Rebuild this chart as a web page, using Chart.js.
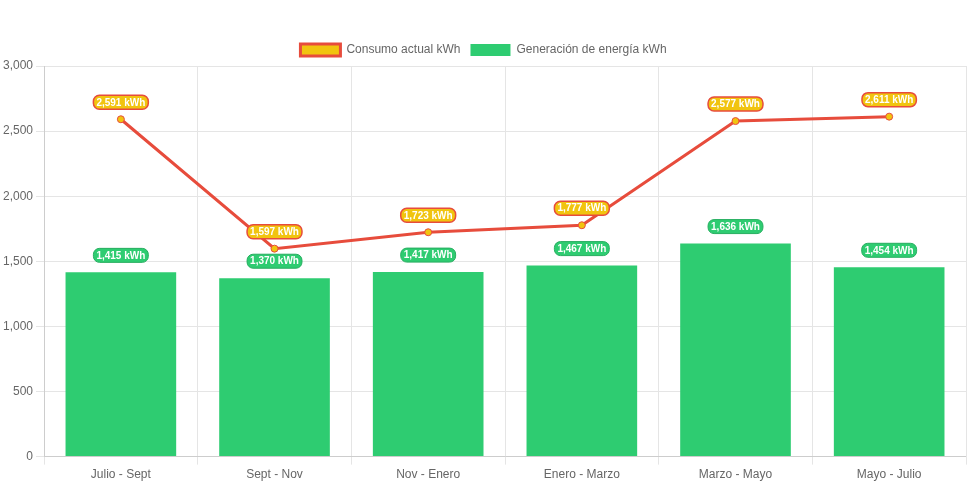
<!DOCTYPE html>
<html>
<head>
<meta charset="utf-8">
<script src="https://cdn.jsdelivr.net/npm/chart.js@4"></script>
<style>
    html, body { margin: 0; padding: 0; background: #fff; }
    .chart { width: 971px; height: 485px; }
</style>
</head>
<body>
<div class="chart"><canvas id="energyChart"></canvas></div>
<script>
const periodos = ["Julio - Sept", "Sept - Nov", "Nov - Enero", "Enero - Marzo", "Marzo - Mayo", "Mayo - Julio"];
const consumo = [2591, 1597, 1723, 1777, 2577, 2611];
const generacion = [1415, 1370, 1417, 1467, 1636, 1454];

// etiquetas encima de cada punto / barra
const valueLabels = {
    id: "valueLabels",
    afterDatasetsDraw(chart) {
        const { ctx } = chart;
        ctx.save();
        ctx.font = "bold 10px 'Liberation Sans', Arial, sans-serif";
        ctx.textAlign = "center";
        ctx.textBaseline = "middle";
        // barras primero, luego la línea encima
        [1, 0].forEach((di) => {
            const ds = chart.data.datasets[di];
            const meta = chart.getDatasetMeta(di);
            meta.data.forEach((el, i) => {
                const text = ds.data[i].toLocaleString("en-US") + " kWh";
                const w = ctx.measureText(text).width + 6;
                const h = 14;
                const x = el.x;
                const y = el.y - 17;
                ctx.beginPath();
                ctx.roundRect(x - w / 2, y - h / 2, w, h, 6);
                ctx.fillStyle = ds.labelBg;
                ctx.fill();
                ctx.lineWidth = ds.labelBorderWidth;
                ctx.strokeStyle = ds.labelBorder;
                ctx.stroke();
                ctx.fillStyle = "#fff";
                ctx.fillText(text, x, y + 0.5);
            });
        });
        ctx.restore();
    },
};

new Chart(document.getElementById("energyChart"), {
    type: "bar",
    data: {
        labels: periodos,
        datasets: [
            {
                type: "line",
                label: "Consumo actual kWh",
                data: consumo,
                borderColor: "#e74c3c",
                backgroundColor: "#f1c40f",
                borderWidth: 3,
                pointRadius: 3.5,
                pointBackgroundColor: "#f1c40f",
                pointBorderColor: "#e74c3c",
                pointBorderWidth: 1,
                tension: 0,
                labelBg: "#f1c40f",
                labelBorder: "#e74c3c",
                labelBorderWidth: 1.5,
            },
            {
                label: "Generación de energía kWh",
                data: generacion,
                backgroundColor: "#2ecc71",
                borderColor: "#2ecc71",
                borderWidth: 0,
                labelBg: "#2ecc71",
                labelBorder: "#27ae60",
                labelBorderWidth: 1,
            },
        ],
    },
    options: {
        responsive: true,
        maintainAspectRatio: false,
        animation: false,
        layout: {
            padding: { top: 34, right: 4 },
        },
        plugins: {
            legend: {
                display: true,
                position: "top",
                labels: {
                    color: "#666",
                    boxWidth: 40,
                    font: { size: 12 },
                },
            },
            tooltip: { enabled: false },
        },
        scales: {
            x: {
                grid: { color: "#e5e5e5" },
                ticks: { color: "#666" },
            },
            y: {
                min: 0,
                max: 3000,
                grid: { color: "#e5e5e5" },
                ticks: {
                    color: "#666",
                    stepSize: 500,
                },
            },
        },
    },
    plugins: [valueLabels],
});
</script>
</body>
</html>
